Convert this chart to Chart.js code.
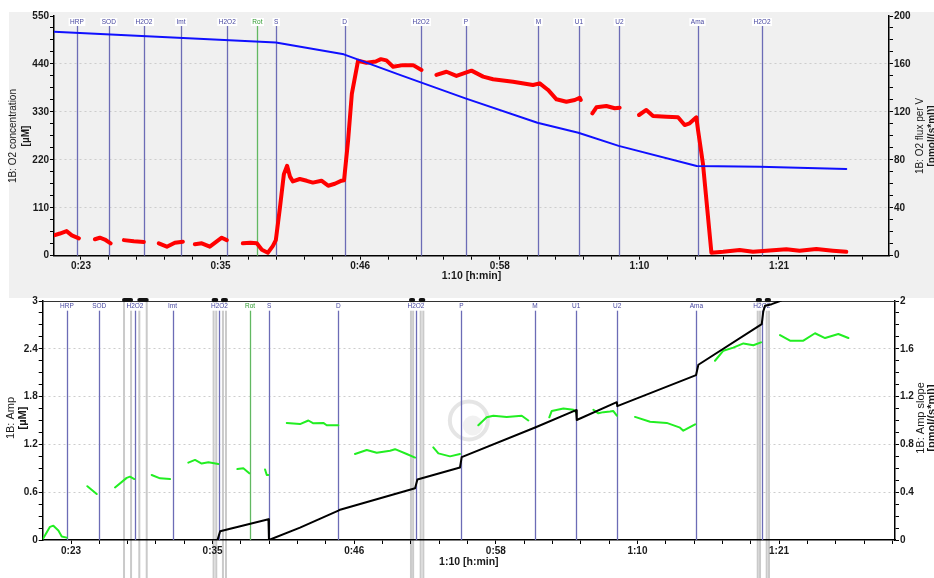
<!DOCTYPE html>
<html>
<head>
<meta charset="utf-8">
<script src="https://cdn.jsdelivr.net/npm/chart.js@4.4.1/dist/chart.umd.min.js"></script>
<style>
body { margin: 0; background: #fff; width: 934px; height: 578px; overflow: hidden; position: relative; }
#topBg { position: absolute; left: 9px; top: 12px; width: 925px; height: 286px; background: #f0f0f0; }
#topWrap { position: absolute; left: 0; top: 0; }
#botWrap { position: absolute; left: 0; top: 286px; }
</style>
</head>
<body>
<div id="topBg"></div>
<div id="topWrap"><canvas id="topChart" width="934" height="298"></canvas></div>
<div id="botWrap"><canvas id="botChart" width="934" height="292"></canvas></div>
<script>
// time axis (minutes) and tick labels
const xTickMinutes = [23.333, 35, 46.667, 58.333, 70, 81.667];
const xTickLabels = ['0:23', '0:35', '0:46', '0:58', '1:10', '1:21'];
const topLeftTicks = [0, 110, 220, 330, 440, 550];
const topRightTicks = [0, 40, 80, 120, 160, 200];
const botLeftTicks = [0, 0.6, 1.2, 1.8, 2.4, 3];
const botRightTicks = [0, 0.4, 0.8, 1.2, 1.6, 2];

// injection events
const eventNames = ['HRP', 'SOD', 'H2O2', 'Imt', 'H2O2', 'Rot', 'S', 'D', 'H2O2', 'P', 'M', 'U1', 'U2', 'Ama', 'H2O2'];
const eventMinutes = [23.0, 25.66, 28.6, 31.7, 35.56, 38.08, 39.65, 45.36, 51.75, 55.5, 61.56, 64.95, 68.33, 74.86, 80.25];
// calibration marks (bottom panel), start/end pairs
const markPairs = [[27.70, 28.28], [28.96, 29.57], [35.08, 35.30], [35.85, 36.10],
                   [51.34, 51.52], [52.14, 52.36], [79.91, 80.10], [80.65, 80.84]];

// top: O2 concentration (left axis)
const o2ConcMin = [21.08, 39.62, 45.30, 49.98, 55.46, 61.48, 64.90, 68.27, 74.79, 80.05, 87.29];
const o2Conc = [514, 489, 462, 415, 361, 305, 282, 252, 206, 204, 199];

// top: O2 flux per V (right axis), null = gap
const fluxMin = [21.08, 21.57, 22.13, 22.57, 23.16, 23.8,
  24.50, 24.91, 25.33, 25.81, 26.4,
  26.92, 27.75, 28.59, 29.2,
  29.84, 30.51, 31.18, 31.85, 32.3,
  32.85, 33.43, 34.10, 35.10, 35.52, 36.2,
  36.86, 37.5, 38.03, 38.45, 38.95, 39.36, 39.62, 39.96, 40.29, 40.56, 40.8, 41.04, 41.62, 42.2, 42.71,
  43.43, 43.99, 44.55, 45.11, 45.32, 45.66, 45.97, 46.49, 47.19, 47.97, 48.4, 48.86, 49.42, 50.23, 51.09, 51.79, 52.4,
  53.04, 53.88, 54.71, 55.97, 56.94, 57.77, 59.44, 61.11, 61.67, 62.37, 63.07, 63.90, 64.60, 65.01, 65.10, 65.6,
  66.07, 66.41, 67.24, 67.94, 68.35, 69.2,
  69.97, 70.58, 71.14, 72.25, 73.23, 73.78, 74.20, 74.76, 74.90, 75.31, 76.02, 77.0, 78.38, 79.49, 80.61,
  82.28, 83.39, 84.79, 86.17, 87.29];
const flux = [17, 18.5, 20.5, 17, 14.5, null,
  13.7, 15, 13.5, 10.3, null,
  13, 12, 11.5, null,
  10.3, 7.5, 10.8, 11.7, null,
  9.5, 10.3, 7.5, 15, 13, null,
  10.3, 10.8, 10.3, 5, 2.5, 8, 13, 40, 68, 75, 66, 62, 64, 62.5, 61,
  62.6, 58.4, 60, 62.6, 63, 96.5, 135, 162.7, 161, 162, 164, 163, 157.7, 159, 159, 155, null,
  150.8, 153.5, 150, 154.4, 149.4, 147.2, 145.2, 142.4, 143.8, 138.3, 130.5, 128.5, 129.9, 131.8, 130, null,
  118.8, 123.8, 124.9, 123, 123.5, null,
  117.4, 121.6, 116.6, 116, 115.5, 109, 110.5, 115.5, 104.9, 77, 2.5, 3.3, 4.8, 3.3, 4.2,
  5.3, 4.2, 5.6, 4.2, 3.3];

// bottom: Amp (left axis)
const ampMin = [35.40, 35.62, 39.60, 39.64, 42.20, 45.36, 45.50, 51.68, 51.87, 55.38, 55.52, 61.62,
  64.94, 65.00, 68.30, 68.34, 74.83, 75.02, 80.24, 80.37, 80.51, 81.06, 81.75, 82.6];
const amp = [0, 0.11, 0.26, 0.0, 0.155, 0.368, 0.38, 0.65, 0.76, 0.91, 1.04, 1.415,
  1.63, 1.506, 1.73, 1.68, 2.07, 2.20, 2.71, 2.87, 2.94, 2.96, 3.0, 3.06];

// bottom: Amp slope (right axis), null = gap
const slopeMin = [21.05, 21.60, 21.88, 22.29, 22.57, 22.98, 23.8,
  24.68, 25.45, 26.2,
  26.96, 27.92, 28.19, 28.55, 29.3,
  29.98, 30.67, 31.49, 32.3,
  33.00, 33.55, 34.10, 34.65, 35.47, 36.3,
  37.04, 37.53, 38.02, 38.7,
  39.32, 39.46, 39.59, 40.4,
  41.11, 42.20, 42.89, 43.30, 44.12, 44.40, 45.36, 46.0,
  46.73, 47.70, 48.52, 49.62, 50.03, 50.99, 51.68, 52.4,
  53.18, 53.60, 54.56, 55.38, 56.1,
  56.89, 57.58, 58.13, 59.23, 60.47, 61.01, 61.9,
  62.74, 62.94, 63.90, 64.72, 64.94, 65.7,
  66.37, 66.78, 67.2, 67.74, 68.0, 68.30, 69.0,
  69.80, 71.04, 72.41, 73.51, 73.78, 74.75, 75.6,
  76.39, 77.08, 77.90, 78.73, 79.55, 80.18, 81.0,
  81.75, 82.57, 83.67, 84.63, 85.46, 86.55, 87.38];
const slope = [0.014, 0.11, 0.12, 0.08, 0.03, 0.02, null,
  0.45, 0.385, null,
  0.44, 0.52, 0.53, 0.51, null,
  0.544, 0.516, 0.51, null,
  0.647, 0.67, 0.64, 0.65, 0.636, null,
  0.594, 0.6, 0.558, null,
  0.59, 0.544, 0.544, null,
  0.98, 0.97, 1.0, 0.976, 0.98, 0.96, 0.96, null,
  0.72, 0.753, 0.73, 0.747, 0.76, 0.72, 0.69, null,
  0.775, 0.725, 0.70, 0.72, null,
  0.96, 1.027, 1.04, 1.03, 1.04, 1.0, null,
  1.027, 1.08, 1.1, 1.09, 1.07, null,
  1.09, 1.06, 1.07, 1.075, 1.08, 1.04, null,
  1.03, 0.99, 0.98, 0.94, 0.915, 0.968, null,
  1.50, 1.584, 1.61, 1.645, 1.63, 1.654, null,
  1.715, 1.668, 1.668, 1.73, 1.69, 1.724, 1.69];

const FONT = '"Liberation Sans", Arial, sans-serif';
Chart.defaults.font.family = FONT;

function pts(xs, ys) { return xs.map((x, i) => ({ x: x, y: ys[i] })); }

// majors plus evenly spaced minor ticks between (and beyond) them
function subTicks(majors, parts, lo, hi) {
  const out = [];
  const first = (majors[1] - majors[0]) / parts;
  const last = (majors[majors.length - 1] - majors[majors.length - 2]) / parts;
  for (let v = majors[0] - first; v >= lo - 1e-6; v -= first) out.unshift({ value: v });
  for (let i = 0; i < majors.length - 1; i++) {
    const step = (majors[i + 1] - majors[i]) / parts;
    for (let k = 0; k < parts; k++) out.push({ value: majors[i] + k * step });
  }
  out.push({ value: majors[majors.length - 1] });
  for (let v = majors[majors.length - 1] + last; v <= hi + 1e-6; v += last) out.push({ value: v });
  return out;
}
function majorIndex(v, majors) {
  return majors.findIndex(m => Math.abs(m - v) < 1e-4);
}

function xScale(min, max, h) {
  return {
    type: 'linear', min: min, max: max,
    afterBuildTicks: s => { s.ticks = subTicks(xTickMinutes, 5, min, max); },
    afterFit: s => { s.height = h; },
    ticks: {
      autoSkip: false, maxRotation: 0, padding: 1, color: '#1a1a1a',
      font: { size: 10, weight: 'bold' },
      callback: v => { const i = majorIndex(v, xTickMinutes); return i < 0 ? '' : xTickLabels[i]; }
    },
    grid: { drawOnChartArea: false, tickLength: 4, tickColor: '#000', tickWidth: 1 },
    border: { color: '#000', width: 1.5 }
  };
}

function yScale(pos, majors, parts, w, grid) {
  const lo = majors[0], hi = majors[majors.length - 1];
  return {
    type: 'linear', position: pos, min: lo, max: hi,
    afterBuildTicks: s => { s.ticks = subTicks(majors, parts, lo, hi); },
    afterFit: s => { s.width = w; },
    ticks: {
      autoSkip: false, padding: 1, color: '#1a1a1a',
      font: { size: 10, weight: 'bold' },
      callback: v => { const i = majorIndex(v, majors); return i < 0 ? '' : String(majors[i]); }
    },
    grid: {
      drawOnChartArea: grid, tickLength: 4, tickColor: '#000', tickWidth: 1,
      color: c => {
        const v = c.tick ? c.tick.value : 0;
        return (majorIndex(v, majors) > 0 && v < hi - 1e-6) ? '#cdcdcd' : 'rgba(0,0,0,0)';
      }
    },
    border: { color: '#000', width: 1.5, dash: [2, 3] }
  };
}

function vText(ctx, text, x, y, font) {
  ctx.save();
  ctx.translate(x, y);
  ctx.rotate(-Math.PI / 2);
  ctx.font = font;
  ctx.textAlign = 'center';
  ctx.textBaseline = 'middle';
  ctx.fillStyle = '#1a1a1a';
  ctx.fillText(text, 0, 0);
  ctx.restore();
}

const decor = {
  id: 'decor',
  beforeDraw(chart, args, o) {
    // calibration marks sit under the axes and tick labels
    if (!o.marks) return;
    const { ctx, chartArea: a, scales: { x } } = chart;
    ctx.save();
    ctx.strokeStyle = '#cacaca';
    ctx.lineWidth = 2;
    markPairs.forEach(p => p.forEach(m => {
      const px = x.getPixelForValue(m);
      ctx.beginPath(); ctx.moveTo(px, a.top); ctx.lineTo(px, chart.height); ctx.stroke();
    }));
    ctx.restore();
  },
  beforeDatasetsDraw(chart, args, o) {
    const { ctx, chartArea: a, scales: { x } } = chart;
    ctx.save();
    if (o.logo) {
      const cx = (a.left + a.right) / 2, cy = (a.top + a.bottom) / 2;
      ctx.strokeStyle = 'rgba(190,190,190,0.4)';
      ctx.lineWidth = 4;
      ctx.beginPath(); ctx.arc(cx, cy, 19, 0, Math.PI * 2); ctx.stroke();
      ctx.fillStyle = 'rgba(210,210,210,0.3)';
      ctx.beginPath(); ctx.arc(cx + 4, cy + 5, 10, 0, Math.PI * 2); ctx.fill();
    }
    ctx.lineWidth = 1.3;
    eventMinutes.forEach((m, i) => {
      const px = Math.round(x.getPixelForValue(m)) + 0.5;
      ctx.strokeStyle = eventNames[i] === 'Rot' ? '#62b862' : '#6c6cb6';
      ctx.beginPath(); ctx.moveTo(px, a.top + o.lineTop); ctx.lineTo(px, a.bottom); ctx.stroke();
    });
    ctx.font = '6.5px ' + FONT;
    ctx.textAlign = 'center';
    ctx.textBaseline = 'middle';
    eventMinutes.forEach((m, i) => {
      const px = x.getPixelForValue(m);
      const w = ctx.measureText(eventNames[i]).width + 3;
      ctx.fillStyle = o.labelBg;
      ctx.fillRect(px - w / 2, a.top + o.labelY - 4, w, 8);
      ctx.fillStyle = eventNames[i] === 'Rot' ? '#2f9a2f' : '#4848a0';
      ctx.fillText(eventNames[i], px, a.top + o.labelY);
    });
    if (o.marks) {
      ctx.strokeStyle = '#333';
      ctx.lineWidth = 1;
      ctx.beginPath(); ctx.moveTo(a.left, a.top + 0.5); ctx.lineTo(a.right, a.top + 0.5); ctx.stroke();
      ctx.strokeStyle = '#111';
      ctx.lineWidth = 4;
      ctx.lineCap = 'round';
      markPairs.forEach(p => {
        ctx.beginPath();
        ctx.moveTo(x.getPixelForValue(p[0]), a.top - 1);
        ctx.lineTo(x.getPixelForValue(p[1]), a.top - 1);
        ctx.stroke();
      });
    }
    ctx.restore();
  },
  afterDraw(chart, args, o) {
    const { ctx, chartArea: a } = chart;
    o.titles.forEach(t => vText(ctx, t[1], t[0], o.titleY, (t[2] ? 'bold ' : '') + o.titleSize + 'px ' + FONT));
    ctx.save();
    ctx.font = 'bold 10.5px ' + FONT;
    ctx.fillStyle = '#1a1a1a';
    ctx.textAlign = 'center';
    ctx.textBaseline = 'middle';
    ctx.fillText('1:10 [h:min]', (a.left + a.right) / 2, o.xTitleY);
    ctx.restore();
  }
};

const common = {
  responsive: false, animation: false, events: [],
  elements: { point: { radius: 0 }, line: { tension: 0, borderCapStyle: 'round', borderJoinStyle: 'round' } },
  spanGaps: false
};

new Chart(document.getElementById('topChart'), {
  type: 'line',
  data: {
    datasets: [
      { data: pts(o2ConcMin, o2Conc), yAxisID: 'yL', borderColor: '#1010ff', borderWidth: 2 },
      { data: pts(fluxMin, flux), yAxisID: 'yR', borderColor: '#ff0000', borderWidth: 4 }
    ]
  },
  options: Object.assign({}, common, {
    layout: { padding: { top: 16, left: 0, right: 0, bottom: 0 } },
    scales: {
      x: xScale(21.08, 90.86, 42.3),
      yL: yScale('left', topLeftTicks, 4, 54, true),
      yR: yScale('right', topRightTicks, 4, 45, false)
    },
    plugins: {
      legend: { display: false }, tooltip: { enabled: false },
      decor: {
        labelY: 6, lineTop: 10, labelBg: '#ffffff', marks: false, logo: false,
        titleY: 136, titleSize: 10, xTitleY: 276.5,
        titles: [[13, '1B: O2 concentration', false], [26, '[µM]', true],
                 [920, '1B: O2 flux per V', false], [932, '[pmol/(s*ml)]', true]]
      }
    }
  }),
  plugins: [decor]
});

new Chart(document.getElementById('botChart'), {
  type: 'line',
  data: {
    datasets: [
      { data: pts(ampMin, amp), yAxisID: 'yL', borderColor: '#000000', borderWidth: 2 },
      { data: pts(slopeMin, slope), yAxisID: 'yR', borderColor: '#22ee22', borderWidth: 2 }
    ]
  },
  options: Object.assign({}, common, {
    layout: { padding: { top: 15, left: 0, right: 0, bottom: 0 } },
    scales: {
      x: xScale(21.0, 91.22, 38),
      yL: yScale('left', botLeftTicks, 4, 42.7, true),
      yR: yScale('right', botRightTicks, 4, 39, false)
    },
    plugins: {
      legend: { display: false }, tooltip: { enabled: false },
      decor: {
        labelY: 5.7, lineTop: 9, labelBg: '#ffffff', marks: true, logo: true,
        titleY: 132, titleSize: 11, xTitleY: 276.5,
        titles: [[11, '1B: Amp', false], [23, '[µM]', true],
                 [921, '1B: Amp slope', false], [932, '[pmol/(s*ml)]', true]]
      }
    }
  }),
  plugins: [decor]
});
</script>
</body>
</html>
